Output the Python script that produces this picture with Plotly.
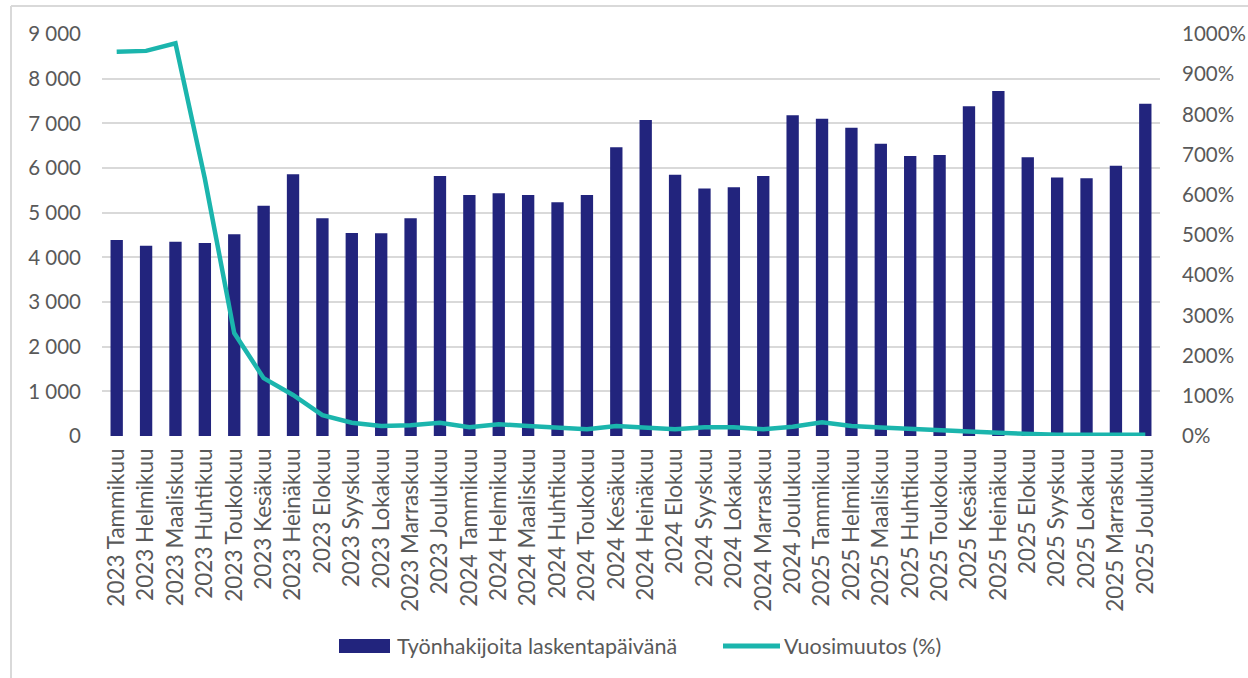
import plotly.graph_objects as go

months = ["Tammikuu", "Helmikuu", "Maaliskuu", "Huhtikuu", "Toukokuu", "Kesäkuu",
          "Heinäkuu", "Elokuu", "Syyskuu", "Lokakuu", "Marraskuu", "Joulukuu"]
years = ["2023", "2024", "2025"]
categories = [f"{y} {m}" for y in years for m in months]

jobseekers = [4390, 4260, 4350, 4320, 4515, 5155, 5860, 4875, 4545, 4540, 4875, 5820,
              5395, 5435, 5395, 5235, 5395, 6465, 7075, 5850, 5540, 5570, 5820, 7180,
              7105, 6900, 6545, 6270, 6290, 7380, 7725, 6240, 5790, 5770, 6050, 7440]

yoy_change = [956, 958, 977, 640, 256, 144, 102, 52, 33, 25, 27, 33,
              22, 29, 25, 22, 17, 25, 22, 17, 22, 22, 17, 23,
              34, 25, 21, 17, 15, 11, 8, 5, 3, 3, 3, 3]

series_names = ["Työnhakijoita laskentapäivänä", "Vuosimuutos (%)"]

left_ticks = [0, 1000, 2000, 3000, 4000, 5000, 6000, 7000, 8000, 9000]
left_ticktext = ["0", "1 000", "2 000", "3 000", "4 000", "5 000", "6 000", "7 000", "8 000", "9 000"]
right_ticks = [0, 100, 200, 300, 400, 500, 600, 700, 800, 900, 1000]
right_ticktext = ["0%", "100%", "200%", "300%", "400%", "500%", "600%", "700%", "800%", "900%", "1000%"]

BAR = "#22247D"
LINE = "#1BB5AD"
TXT = "#595959"
GRID = "#D9D9D9"
FONT = "Lato"

fig = go.Figure()
fig.add_trace(go.Bar(x=categories, y=jobseekers, name=series_names[0],
                     marker=dict(color=BAR, line=dict(width=0)), width=0.42, yaxis="y"))
fig.add_trace(go.Scatter(x=categories, y=yoy_change, name=series_names[1], mode="lines",
                         line=dict(color=LINE, width=4.5), yaxis="y2"))

W, H = 1248, 678
L, R, T, B = 102, 88, 34, 242
pw, ph = W - L - R, H - T - B


def px(x):
    return (x - L) / pw


def py(y):
    return (H - B - y) / ph


fig.update_layout(
    width=W, height=H,
    margin=dict(l=L, r=R, t=T, b=B, autoexpand=False),
    paper_bgcolor="white", plot_bgcolor="white",
    font=dict(family=FONT, color=TXT, size=21),
    showlegend=False,
    xaxis=dict(type="category", tickangle=-90, showgrid=False, showline=False, ticks="",
               tickfont=dict(size=22.5, color=TXT), range=[-0.5, 35.5],
               ticklabelstandoff=7),
    yaxis=dict(range=[0, 9000], tickvals=left_ticks, ticktext=left_ticktext,
               showgrid=True, gridcolor=GRID, gridwidth=1.5, zeroline=False,
               showline=False, ticks="", ticklabelstandoff=20,
               tickfont=dict(size=20.5, color=TXT)),
    yaxis2=dict(range=[0, 1000], tickvals=right_ticks, ticktext=right_ticktext,
                overlaying="y", side="right", showgrid=False, zeroline=False,
                showline=False, ticks="", ticklabelstandoff=21,
                tickfont=dict(size=20.5, color=TXT)),
)

# outer light frame (top and left edges only)
fig.add_shape(type="line", xref="paper", yref="paper", x0=px(11), x1=px(W), y0=py(6), y1=py(6),
              line=dict(color=GRID, width=2))
fig.add_shape(type="line", xref="paper", yref="paper", x0=px(11), x1=px(11), y0=py(6), y1=py(H),
              line=dict(color=GRID, width=2))

# legend drawn below the category labels
leg_y = 646
fig.add_shape(type="rect", xref="paper", yref="paper", x0=px(339), x1=px(390),
              y0=py(653), y1=py(639), fillcolor=BAR, line=dict(width=0))
fig.add_annotation(xref="paper", yref="paper", x=px(395), y=py(leg_y), xanchor="left",
                   yanchor="middle", text=series_names[0], showarrow=False,
                   font=dict(size=21.5, color=TXT, family=FONT))
fig.add_shape(type="line", xref="paper", yref="paper", x0=px(723), x1=px(780),
              y0=py(leg_y), y1=py(leg_y), line=dict(color=LINE, width=5))
fig.add_annotation(xref="paper", yref="paper", x=px(782), y=py(leg_y), xanchor="left",
                   yanchor="middle", text=series_names[1], showarrow=False,
                   font=dict(size=21.5, color=TXT, family=FONT))

fig.write_html("out.html", config={"displayModeBar": False},
               post_script="document.body.style.margin='0';document.body.style.overflow='hidden';")
